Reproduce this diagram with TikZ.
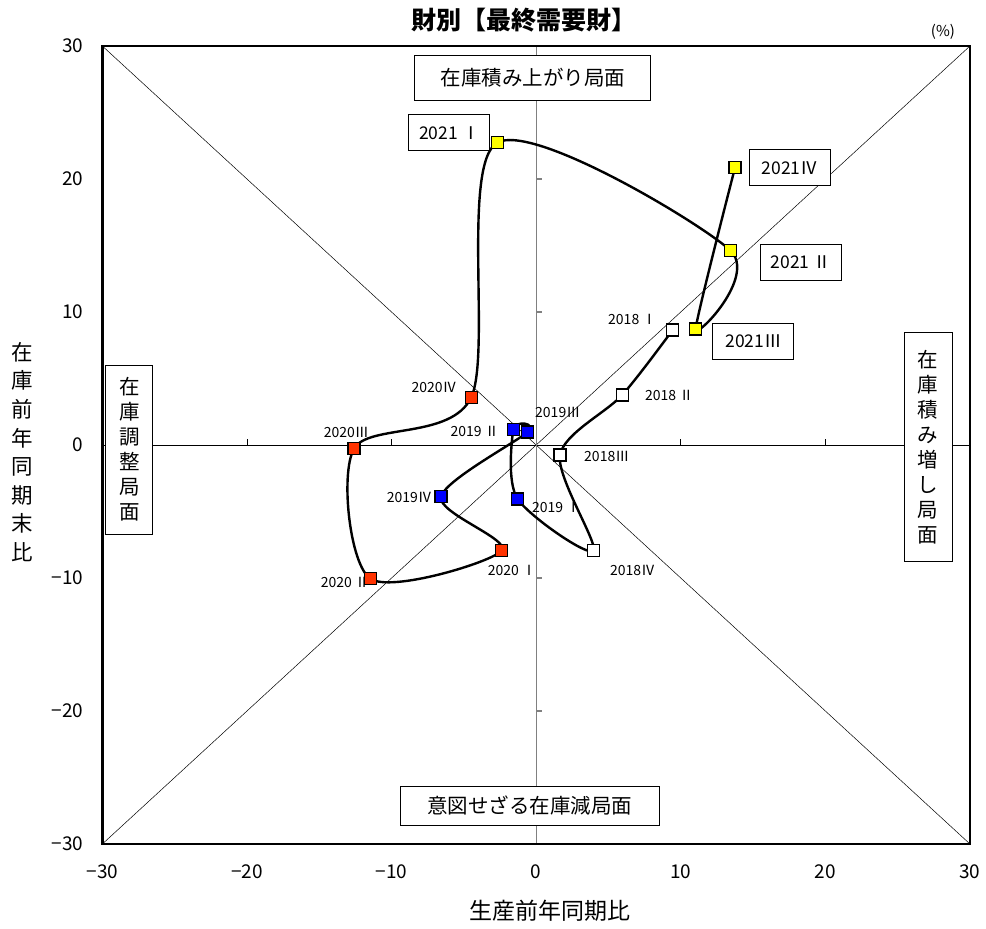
\documentclass[tikz,border=0pt]{standalone}
\usepackage{fontspec}
\setmainfont{Noto Sans CJK JP}
\definecolor{q2018}{RGB}{255,255,255}
\definecolor{q2019}{RGB}{0,0,255}
\definecolor{q2020}{RGB}{255,51,0}
\definecolor{q2021}{RGB}{255,255,0}

\begin{document}
\begin{tikzpicture}[x=14.46pt, y=13.3pt,
    qmark/.style={draw=black, line width=1.3pt, minimum size=12pt, inner sep=0pt},
    tag/.style={font=\fontsize{14}{15}\selectfont, inner sep=0pt},
    yearbox/.style={draw, line width=1pt, fill=white, minimum width=81pt, minimum height=36pt, inner sep=0pt, font=\fontsize{17.5}{19}\selectfont},
    phase/.style={draw, line width=1pt, fill=white, inner sep=0pt, align=center, font=\fontsize{20.5}{25}\selectfont},
    ticklabel/.style={font=\fontsize{19}{20}\selectfont, inner sep=0pt}]
  \useasboundingbox (-37.08,-36.32) rectangle (31.11,33.46);

  % diagonals and axes
  \draw[line width=0.5pt] (-30,-30) -- (30,30) (-30,30) -- (30,-30);
  \draw[line width=0.8pt] (-30,0) -- (30,0);
  \draw[line width=1.3pt, gray] (0,-30) -- (0,30);
  \foreach \v in {-20,-10,10,20} {
    \draw[line width=0.8pt] (\v,0) -- ++(0,6pt);
    \draw[line width=1.3pt, gray] (0,\v) -- ++(6pt,0);
  }

  % phases
  \node[phase, minimum width=236pt, minimum height=45pt] (build-up) at (-0.22,27.63) {在庫積み上がり局面};
  \node[phase, minimum width=259pt, minimum height=39pt] (unintended) at (-0.43,-27.14) {意図せざる在庫減局面};
  \node[phase, minimum width=47pt, minimum height=169pt] (adjust) at (-28.13,-0.34) {在\\庫\\調\\整\\局\\面};
  \node[phase, minimum width=48pt, minimum height=229pt] (pile-up) at (27.1,-0.15) {在\\庫\\積\\み\\増\\し\\局\\面};

  % frame
  \draw[line width=2.5pt] (-30,-30) rectangle (30,30);

  % quarters
  \foreach \n/\x/\y in {18-1/9.44/8.65, 18-2/5.95/3.76, 18-3/1.65/-0.75, 18-4/3.95/-7.95,
      19-1/-1.28/-4.06, 19-2/-1.58/1.18, 19-3/-0.59/0.98, 19-4/-6.58/-3.89,
      20-1/-2.39/-7.95, 20-2/-11.47/-10.05, 20-3/-12.6/-0.28, 20-4/-4.49/3.59,
      21-1/-2.69/22.73, 21-2/13.42/14.64, 21-3/11.03/8.72, 21-4/13.75/20.85}
    \coordinate (q\n) at (\x,\y);

  % labels
  \node[tag, anchor=east] at (8.33,9.47) {2018 Ⅰ};
  \node[tag, anchor=west] at (7.52,3.76) {2018 Ⅱ};
  \node[tag, anchor=west] at (3.31,-0.83) {2018Ⅲ};
  \node[tag, anchor=west] at (5.1,-9.47) {2018Ⅳ};
  \node[tag, anchor=west] at (-0.29,-4.66) {2019 Ⅰ};
  \node[tag, anchor=east] at (-2.57,1.05) {2019 Ⅱ};
  \node[tag, anchor=west] at (-0.08,2.41) {2019Ⅲ};
  \node[tag, anchor=east] at (-7.2,-3.91) {2019Ⅳ};
  \node[tag] at (-1.67,-9.47) {2020 Ⅰ};
  \node[tag] at (-13.22,-10.3) {2020 Ⅱ};
  \node[tag] at (-13.12,0.98) {2020Ⅲ};
  \node[tag, anchor=east] at (-5.48,4.36) {2020Ⅳ};
  \node[yearbox] (tag21-1) at (-6.0,23.46) {2021 Ⅰ};
  \node[yearbox] (tag21-2) at (18.31,13.72) {2021 Ⅱ};
  \node[yearbox] (tag21-3) at (15.03,7.82) {2021Ⅲ};
  \node[yearbox] (tag21-4) at (17.55,20.83) {2021Ⅳ};

  % path
  \draw[line width=2.4pt, line join=round] plot[smooth] coordinates {(q18-1) (q18-2) (q18-3) (q18-4)
      (q19-1) (q19-2) (q19-3) (q19-4) (q20-1) (q20-2) (q20-3) (q20-4)
      (q21-1) (q21-2) (q21-3) (q21-4)};
  \foreach \n in {1,...,4} {
    \node[qmark, fill=q2018] (m18-\n) at (q18-\n) {};
    \node[qmark, fill=q2019] (m19-\n) at (q19-\n) {};
    \node[qmark, fill=q2020] (m20-\n) at (q20-\n) {};
    \node[qmark, fill=q2021] (m21-\n) at (q21-\n) {};
  }

  % axes text
  \foreach \v/\t in {-30/−30,-20/−20,-10/−10,0/0,10/10,20/20,30/30} {
    \node[ticklabel] at (\v,-30) [yshift=-27.5pt] {\t};
    \node[ticklabel, anchor=east] at (-30,\v) [xshift=-19pt] {\t};
  }
  \node[font=\fontsize{21.5}{28.6}\selectfont, align=center] (ylabel) at (-35.56,-0.53) {在\\庫\\前\\年\\同\\期\\末\\比};
  \node[font=\fontsize{23}{25}\selectfont] (xlabel) at (0.97,-35.0) {生産前年同期比};
  \node[font=\fontsize{25}{27}\selectfont\bfseries] (title) at (-0.87,31.95) {財別【最終需要財】};
  \node[font=\fontsize{15}{16}\selectfont] (unit) at (28.13,31.1) {(\%)};
\end{tikzpicture}
\end{document}
